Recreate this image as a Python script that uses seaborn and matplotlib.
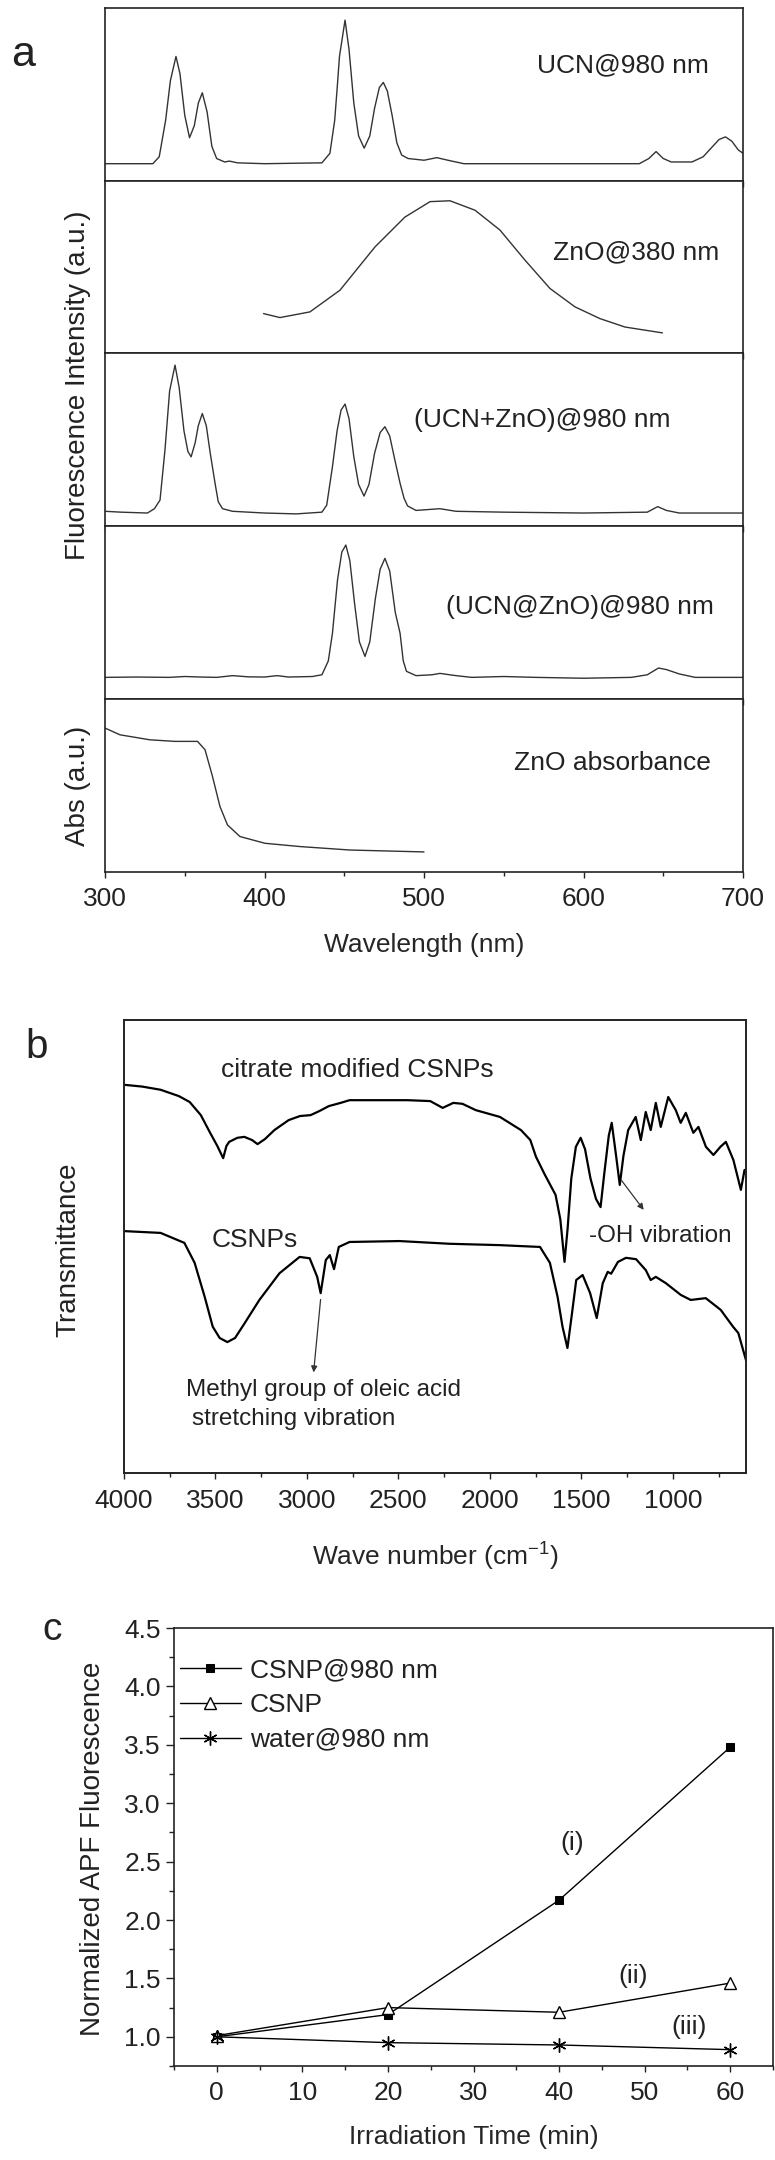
import matplotlib
matplotlib.use('Agg')
import matplotlib.pyplot as plt
import seaborn as sns
from matplotlib.ticker import MultipleLocator

# ---------------- panel a: spectra (intensity as fraction of panel height) ----------------
ucn_nm = [300, 330, 334, 338, 341, 344.5, 347, 350, 353, 356, 358.5, 361, 364, 367, 370, 375, 378, 383,
          400, 436, 441, 444, 445.8, 447, 450.5, 453, 456, 459, 462.5, 466, 469, 472, 474.5, 477, 480, 483,
          486, 490, 500, 508, 515, 525, 635, 641, 645.5, 650, 655, 668, 675, 680, 685, 689, 693, 697, 700]
ucn_int = [0.10, 0.10, 0.14, 0.35, 0.58, 0.72, 0.62, 0.38, 0.25, 0.32, 0.45, 0.51, 0.40, 0.20, 0.13, 0.11, 0.115, 0.105,
           0.10, 0.105, 0.16, 0.35, 0.566, 0.72, 0.93, 0.76, 0.45, 0.26, 0.19, 0.26, 0.42, 0.54, 0.57, 0.52, 0.38, 0.22,
           0.15, 0.13, 0.12, 0.135, 0.12, 0.10, 0.10, 0.13, 0.17, 0.13, 0.11, 0.11, 0.14, 0.19, 0.24, 0.255, 0.23, 0.18, 0.16]

zno_nm = [399.4, 409.7, 428.5, 447.3, 469.3, 488, 503.8, 516.3, 532, 547.6, 563.3, 579, 594.7, 610.3, 626, 649.5]
zno_int = [0.229, 0.206, 0.239, 0.365, 0.617, 0.79, 0.88, 0.885, 0.83, 0.715, 0.54, 0.375, 0.268, 0.2, 0.151, 0.117]

mix_nm = [300, 310, 326.6, 331, 334.5, 337.6, 340.5, 343.9, 346.5, 349.5, 352, 354, 356.5, 358.5, 361, 363.5,
          366, 369, 371, 373.7, 380, 400, 420, 436, 439, 442.6, 445.5, 448, 450.5, 453, 456, 459, 462.4, 465.5,
          469, 472.5, 475.5, 478.5, 482, 485, 487.5, 489.7, 495, 510, 520, 550, 600, 640, 646.5, 652, 660, 700]
mix_int = [0.085, 0.08, 0.075, 0.10, 0.15, 0.44, 0.78, 0.93, 0.80, 0.55, 0.43, 0.40, 0.48, 0.58, 0.65, 0.58,
           0.42, 0.247, 0.14, 0.10, 0.085, 0.075, 0.07, 0.08, 0.12, 0.343, 0.55, 0.67, 0.705, 0.62, 0.40, 0.24, 0.173, 0.24,
           0.42, 0.54, 0.574, 0.52, 0.37, 0.247, 0.16, 0.116, 0.09, 0.10, 0.085, 0.08, 0.075, 0.08, 0.112, 0.09, 0.075, 0.075]

core_nm = [300, 320, 340, 350, 360, 370, 380, 390, 400, 408, 415, 430, 436, 440, 442.6, 445.8, 448.5, 451, 453.5,
           456.5, 459.5, 463, 466, 469.5, 472.5, 475.5, 478.5, 482, 485, 487, 489, 495, 505, 510, 520, 530, 550,
           570, 600, 630, 640, 647, 652, 660, 670, 700]
core_int = [0.125, 0.127, 0.125, 0.13, 0.127, 0.125, 0.135, 0.128, 0.127, 0.135, 0.127, 0.13, 0.14, 0.22, 0.38, 0.69,
            0.85, 0.89, 0.80, 0.55, 0.33, 0.246, 0.33, 0.58, 0.75, 0.813, 0.74, 0.50, 0.38, 0.22, 0.16, 0.135, 0.14,
            0.148, 0.135, 0.125, 0.13, 0.125, 0.12, 0.125, 0.14, 0.179, 0.17, 0.145, 0.125, 0.125]

abs_nm = [300, 309.4, 328.2, 343.9, 358, 362.7, 367.4, 372.1, 376.8, 384.6, 400.3, 422.3, 453.6, 500]
abs_val = [0.832, 0.793, 0.764, 0.755, 0.755, 0.707, 0.552, 0.378, 0.272, 0.205, 0.166, 0.147, 0.127, 0.116]

panel_a_labels = ['UCN@980 nm', 'ZnO@380 nm', '(UCN+ZnO)@980 nm', '(UCN@ZnO)@980 nm', 'ZnO absorbance']

# ---------------- panel b: FTIR (transmittance as fraction of axes height) ----------------
cit_wn = [4000, 3900, 3800, 3700, 3641, 3580, 3532, 3490, 3458, 3440, 3425, 3380, 3342, 3300, 3270, 3230, 3178,
          3100, 3038, 2980, 2932, 2880, 2816, 2767, 2600, 2450, 2326, 2258, 2200, 2150, 2077, 1945, 1830, 1779,
          1748, 1699, 1641, 1615, 1592, 1575, 1555, 1530, 1504, 1480, 1450, 1420, 1395, 1375, 1350, 1334, 1310,
          1290, 1270, 1244, 1203, 1175, 1148, 1121, 1093, 1066, 1025, 984, 957, 929, 888, 860, 819, 778, 740,
          710, 669, 628, 608]
cit_t = [0.857, 0.853, 0.846, 0.832, 0.819, 0.790, 0.753, 0.722, 0.695, 0.722, 0.731, 0.740, 0.742, 0.735, 0.726,
         0.737, 0.757, 0.779, 0.788, 0.790, 0.799, 0.810, 0.817, 0.823, 0.823, 0.823, 0.821, 0.806, 0.817, 0.815,
         0.801, 0.786, 0.757, 0.735, 0.698, 0.658, 0.614, 0.560, 0.466, 0.540, 0.650, 0.720, 0.740, 0.715, 0.650,
         0.605, 0.587, 0.660, 0.745, 0.773, 0.700, 0.636, 0.700, 0.757, 0.786, 0.735, 0.797, 0.757, 0.817, 0.764,
         0.830, 0.801, 0.773, 0.795, 0.751, 0.764, 0.720, 0.702, 0.720, 0.731, 0.691, 0.625, 0.669]

csnp_wn = [4000, 3800, 3670, 3614, 3559, 3515, 3477, 3435, 3393, 3340, 3260, 3150, 3040, 2985, 2944, 2925, 2897,
           2875, 2852, 2826, 2767, 2494, 2220, 1945, 1726, 1672, 1630, 1603, 1576, 1551, 1528, 1493, 1452, 1416,
           1383, 1356, 1337, 1300, 1256, 1201, 1148, 1121, 1093, 1038, 956, 902, 820, 738, 671, 642, 600]
csnp_t = [0.534, 0.530, 0.508, 0.464, 0.389, 0.323, 0.298, 0.289, 0.298, 0.331, 0.382, 0.441, 0.477, 0.474, 0.433,
          0.397, 0.470, 0.481, 0.450, 0.499, 0.510, 0.512, 0.506, 0.503, 0.499, 0.464, 0.389, 0.323, 0.276, 0.353,
          0.426, 0.437, 0.397, 0.342, 0.419, 0.444, 0.440, 0.466, 0.475, 0.472, 0.448, 0.426, 0.433, 0.419, 0.393,
          0.382, 0.386, 0.360, 0.323, 0.309, 0.249]

# ---------------- panel c: APF fluorescence ----------------
time_min = [0, 20, 40, 60]
apf_csnp_980 = [1.00, 1.19, 2.17, 3.48]
apf_csnp = [1.01, 1.25, 1.21, 1.46]
apf_water = [1.00, 0.95, 0.93, 0.89]
series_names = ['CSNP@980 nm', 'CSNP', 'water@980 nm']

sns.set_style('ticks')
plt.rcParams['font.family'] = ['Liberation Sans', 'DejaVu Sans']
plt.rcParams['mathtext.fontset'] = 'custom'
plt.rcParams['mathtext.rm'] = 'Liberation Sans'
plt.rcParams['text.color'] = '#222222'
plt.rcParams['axes.edgecolor'] = '#222222'
plt.rcParams['xtick.color'] = '#222222'
plt.rcParams['ytick.color'] = '#222222'
plt.rcParams['xtick.direction'] = 'out'
plt.rcParams['ytick.direction'] = 'out'

FS = 19      # main text size
FS_NOTE = 17.5

W, H = 775, 2160
fig = plt.figure(figsize=(W / 100, H / 100), dpi=100)


def rect(x0, y0, x1, y1):
    return [x0 / W, 1 - y1 / H, (x1 - x0) / W, (y1 - y0) / H]


# ---- panel a ----
tops = [8, 181, 353, 526, 699, 872]
xs_list = [ucn_nm, zno_nm, mix_nm, core_nm, abs_nm]
ys_list = [ucn_int, zno_int, mix_int, core_int, abs_val]
lab_x = [625, 633, 574, 598, 618]
lab_y = [0.67, 0.587, 0.613, 0.53, 0.63]
for k in range(5):
    ax = fig.add_axes(rect(105, tops[k], 743, tops[k + 1]))
    sns.lineplot(x=xs_list[k], y=ys_list[k], ax=ax, color='#333333', lw=1.0, estimator=None, sort=False)
    ax.set_xlim(300, 700)
    ax.set_ylim(0, 1)
    ax.set_yticks([])
    ax.xaxis.set_major_locator(MultipleLocator(100))
    ax.xaxis.set_minor_locator(MultipleLocator(50))
    for s in ax.spines.values():
        s.set_linewidth(1.2)
    ax.text(lab_x[k], lab_y[k], panel_a_labels[k], ha='center', va='center', fontsize=FS)
    if k < 4:
        ax.tick_params(axis='x', which='both', length=4, width=1, labelbottom=False)
    else:
        ax.tick_params(axis='x', which='major', length=4.5, width=1, labelsize=FS, pad=6)
        ax.tick_params(axis='x', which='minor', length=3, width=1)
        ax.set_xlabel('Wavelength (nm)', fontsize=FS)
        ax.xaxis.set_label_coords(0.5, -0.35)

fig.text(78 / W, 1 - 385 / H, 'Fluorescence Intensity (a.u.)', rotation=90, ha='center', va='center', fontsize=20)
fig.text(78 / W, 1 - 786 / H, 'Abs (a.u.)', rotation=90, ha='center', va='center', fontsize=20)
fig.text(23 / W, 1 - 55 / H, 'a', ha='center', va='center', fontsize=31)

# ---- panel b ----
ax = fig.add_axes(rect(124, 1020, 746, 1473))
sns.lineplot(x=cit_wn, y=cit_t, ax=ax, color='black', lw=1.6, estimator=None, sort=False)
sns.lineplot(x=csnp_wn, y=csnp_t, ax=ax, color='black', lw=1.6, estimator=None, sort=False)
ax.set_xlim(4000, 600)
ax.set_ylim(0, 1)
ax.set_yticks([])
ax.xaxis.set_major_locator(MultipleLocator(500))
ax.xaxis.set_minor_locator(MultipleLocator(250))
ax.tick_params(axis='x', which='major', length=4.5, width=1, labelsize=FS, pad=7)
ax.tick_params(axis='x', which='minor', length=3, width=1)
for s in ax.spines.values():
    s.set_linewidth(1.4)
ax.set_xlabel('Wave number (cm$^{-1}$)', fontsize=FS)
ax.xaxis.set_label_coords(0.5, -0.145)
ax.text(2723, 0.89, 'citrate modified CSNPs', ha='center', va='center', fontsize=FS)
ax.text(3286, 0.514, 'CSNPs', ha='center', va='center', fontsize=FS)
ax.text(1068, 0.523, '-OH vibration', ha='center', va='center', fontsize=FS_NOTE)
ax.text(3663, 0.183, 'Methyl group of oleic acid', ha='left', va='center', fontsize=FS_NOTE)
ax.text(3630, 0.119, 'stretching vibration', ha='left', va='center', fontsize=FS_NOTE)
ax.annotate('', xy=(1150, 0.576), xytext=(1290, 0.651),
            arrowprops=dict(arrowstyle='-|>', color='#333333', lw=0.9, mutation_scale=9))
ax.annotate('', xy=(2965, 0.216), xytext=(2924, 0.389),
            arrowprops=dict(arrowstyle='-|>', color='#333333', lw=0.9, mutation_scale=9))
fig.text(68 / W, 1 - 1250 / H, 'Transmittance', rotation=90, ha='center', va='center', fontsize=20)
fig.text(37 / W, 1 - 1047 / H, 'b', ha='center', va='center', fontsize=29)

# ---- panel c ----
ax = fig.add_axes(rect(174, 1628, 773, 2066))
sns.lineplot(x=time_min, y=apf_csnp_980, ax=ax, color='black', lw=1.0, marker='s', markersize=6,
             markeredgecolor='black', markerfacecolor='black', label=series_names[0], estimator=None)
sns.lineplot(x=time_min, y=apf_csnp, ax=ax, color='black', lw=1.0, marker='^', markersize=9,
             markeredgecolor='black', markerfacecolor='white', markeredgewidth=1.0, label=series_names[1],
             estimator=None)
sns.lineplot(x=time_min, y=apf_water, ax=ax, color='black', lw=1.0, marker=(6, 2, 0), markersize=10,
             markeredgecolor='black', markeredgewidth=1.0, label=series_names[2], estimator=None)
ax.set_xlim(-5, 65)
ax.set_ylim(0.75, 4.5)
ax.xaxis.set_major_locator(MultipleLocator(10))
ax.xaxis.set_minor_locator(MultipleLocator(5))
ax.yaxis.set_major_locator(MultipleLocator(0.5))
ax.yaxis.set_minor_locator(MultipleLocator(0.25))
ax.yaxis.set_major_formatter(plt.FormatStrFormatter('%.1f'))
ax.tick_params(axis='x', which='major', length=4.5, width=1, labelsize=FS, pad=6)
ax.tick_params(axis='x', which='minor', length=3, width=1)
ax.tick_params(axis='y', which='major', length=5.5, width=1, labelsize=FS, pad=4)
ax.tick_params(axis='y', which='minor', length=3.5, width=1)
for s in ax.spines.values():
    s.set_linewidth(1.2)
ax.set_xlabel('Irradiation Time (min)', fontsize=FS)
ax.xaxis.set_label_coords(0.5, -0.135)
ax.legend(loc='upper left', bbox_to_anchor=(0.01, 0.93), frameon=False, fontsize=FS, borderpad=0,
          borderaxespad=0, handlelength=2.3, handletextpad=0.35, labelspacing=0.4)
ax.text(41.5, 2.66, '(i)', ha='center', va='center', fontsize=FS)
ax.text(48.6, 1.52, '(ii)', ha='center', va='center', fontsize=FS)
ax.text(55.2, 1.08, '(iii)', ha='center', va='center', fontsize=FS)
fig.text(93 / W, 1 - 1849 / H, 'Normalized APF Fluorescence', rotation=90, ha='center', va='center', fontsize=20)
fig.text(52 / W, 1 - 1630 / H, 'c', ha='center', va='center', fontsize=28)

fig.savefig('out.png', dpi=100, facecolor='white')
